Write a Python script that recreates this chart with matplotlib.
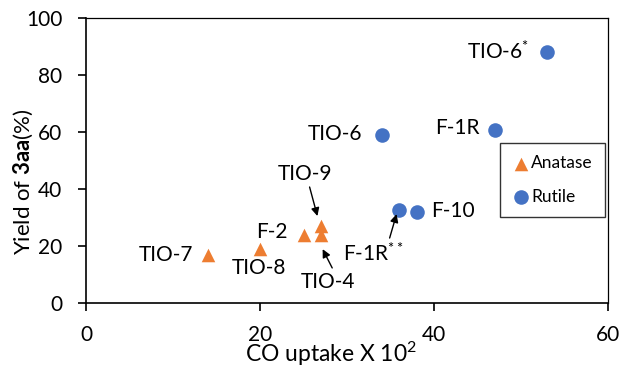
import matplotlib
matplotlib.use("Agg")
import matplotlib.pyplot as plt

plt.rcParams['font.family'] = ['Lato', 'DejaVu Sans']
plt.rcParams['mathtext.fontset'] = 'custom'
plt.rcParams['mathtext.rm'] = 'Lato'
plt.rcParams['mathtext.it'] = 'Lato:italic'
plt.rcParams['mathtext.bf'] = 'Lato:bold'

# Data
anatase_names = ["TIO-7", "TIO-8", "F-2", "TIO-9", "TIO-4"]
anatase_x = [14, 20, 25, 27, 27]
anatase_y = [17, 19, 24, 27, 24]

rutile_names = ["TIO-6*", "TIO-6", "F-1R", "F-1R**", "F-10"]
rutile_x = [53, 34, 47, 36, 38]
rutile_y = [88, 59, 60.7, 32.7, 32]

x_ticks = [0, 20, 40, 60]
y_ticks = [0, 20, 40, 60, 80, 100]

orange = '#ED7D31'
blue = '#4472C4'

fig = plt.figure(figsize=(6.22, 3.67), dpi=100)
ax = fig.add_axes([86/622, 1-303/367, (608-86)/622, (303-18)/367])

ax.scatter(anatase_x, anatase_y, marker='^', s=95, color=orange, label='Anatase', zorder=3, linewidths=0)
ax.scatter(rutile_x, rutile_y, marker='o', s=110, color=blue, label='Rutile', zorder=3, linewidths=0)

ax.set_xlim(0, 60)
ax.set_ylim(0, 100)
ax.set_xticks(x_ticks)
ax.set_yticks(y_ticks)
ax.tick_params(axis='both', labelsize=15, length=6, width=1.2, direction='out', colors='black')
ax.tick_params(axis='y', pad=11)
ax.tick_params(axis='x', pad=10)
for s in ax.spines.values():
    s.set_linewidth(1.2)
    s.set_color('black')
ax.spines['top'].set_linewidth(0.9)
ax.spines['right'].set_linewidth(0.9)

ax.set_xlabel('CO uptake X 10$^{2}$', fontsize=16.5, va='center')
ax.xaxis.set_label_coords((331-86)/522, (303-354)/285)
ax.set_ylabel('Yield of $\\mathbf{3aa}$(%)', fontsize=16, va='center')
ax.yaxis.set_label_coords((23-86)/522, (303-182)/285)

fs = 15
# plain labels
ax.text(12.3, 16.8, 'TIO-7', ha='right', va='center', fontsize=fs)
ax.text(19.9, 12.3, 'TIO-8', ha='center', va='center', fontsize=fs)
ax.text(23.2, 25.0, 'F-2', ha='right', va='center', fontsize=fs)
ax.text(31.8, 59.3, 'TIO-6', ha='right', va='center', fontsize=fs)
ax.text(45.3, 61.4, 'F-1R', ha='right', va='center', fontsize=fs)
ax.text(51.0, 88.4, 'TIO-6$^{*}$', ha='right', va='center', fontsize=fs)
ax.text(39.7, 32.3, 'F-10', ha='left', va='center', fontsize=fs)

arrowprops = dict(arrowstyle='-|>', color='black', lw=1.0, mutation_scale=12, shrinkA=0, shrinkB=0)
# annotated labels with arrows
ax.annotate('', xy=(26.6, 30.5), xytext=(25.7, 40.7), arrowprops=arrowprops)
ax.text(25.2, 45.2, 'TIO-9', ha='center', va='center', fontsize=fs)
ax.annotate('', xy=(27.2, 18.9), xytext=(28.3, 12.3), arrowprops=arrowprops)
ax.text(27.8, 7.4, 'TIO-4', ha='center', va='center', fontsize=fs)
ax.annotate('', xy=(35.7, 31.2), xytext=(34.9, 22.8), arrowprops=arrowprops)
ax.text(33.0, 17.5, 'F-1R$^{**}$', ha='center', va='center', fontsize=fs)

leg = ax.legend(loc='upper left', bbox_to_anchor=((500-86)/522, (303-143)/285),
                fontsize=12.5, frameon=True, fancybox=False, edgecolor='black',
                handletextpad=0.1, handlelength=1.0, borderpad=0.7, labelspacing=1.0,
                borderaxespad=0)
leg.get_frame().set_linewidth(1.0)

fig.savefig('out.png', dpi=100)
